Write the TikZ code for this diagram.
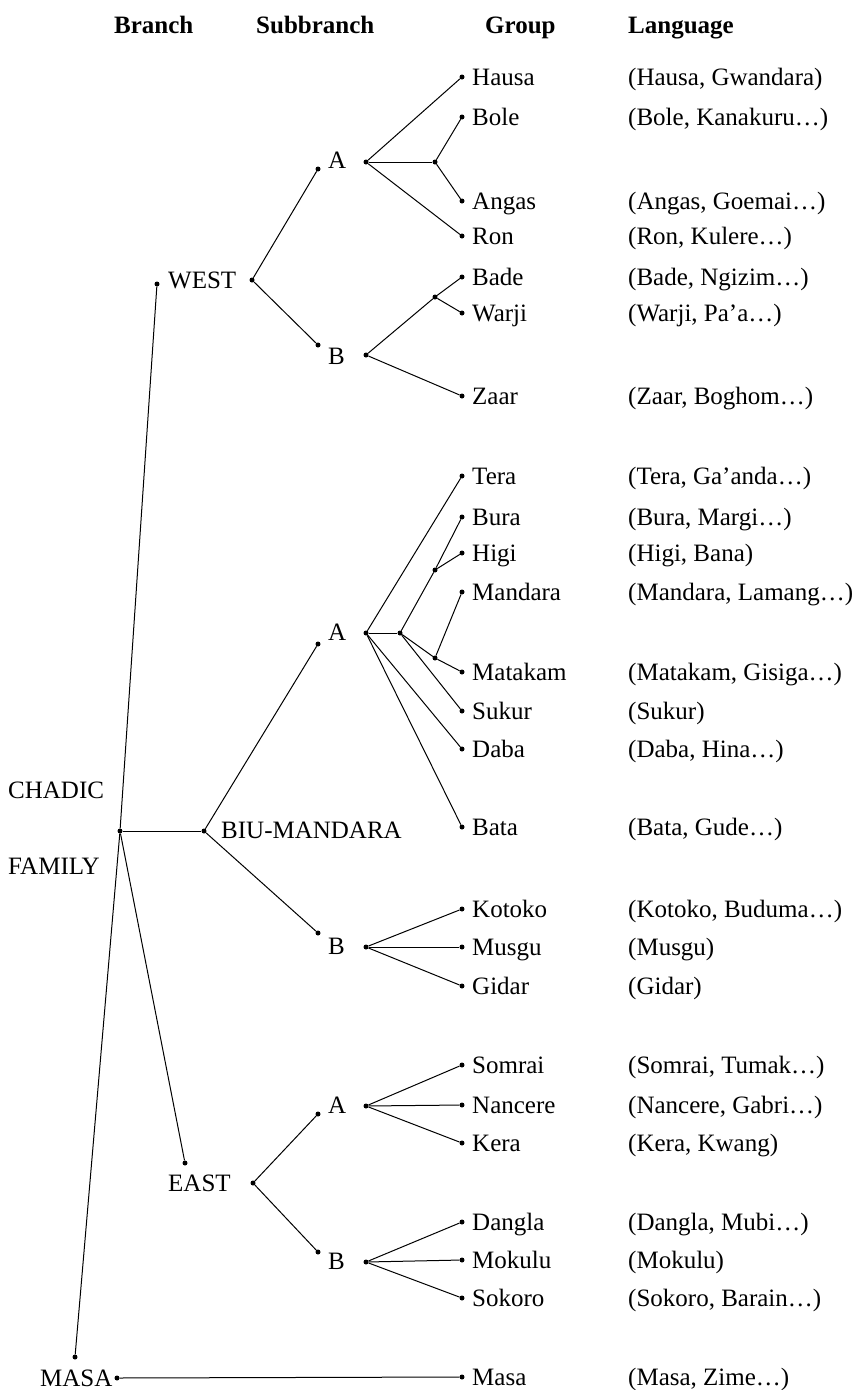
\documentclass[tikz,border=0pt]{standalone}
\usepackage{fontspec}
\setmainfont{Liberation Serif}
\begin{document}
\begin{tikzpicture}[x=1pt,y=-1pt,
  dot/.style={circle,fill=black,inner sep=0pt,minimum size=5pt},
  lbl/.style={inner sep=0pt,anchor=base west,font=\fontsize{25}{30}\selectfont},
  head/.style={inner sep=0pt,anchor=base west,font=\fontsize{25}{30}\selectfont\bfseries},
  edge/.style={draw=black,line width=1pt}]
\useasboundingbox[fill=white] (0,0) rectangle (867,1390);

% column headings
\node[head] (hBranch) at (114,33) {Branch};
\node[head] (hSub) at (256,33) {Subbranch};
\node[head] (hGroup) at (485,33) {Group};
\node[head] (hLang) at (628,33) {Language};

% a leaf: dot, group name, languages
\newcommand\leaf[4]{%
  \node[dot] (#1) at (462,#2) {};
  \node[lbl] (#1-g) at (472,#2+8) {#3};
  \node[lbl] (#1-l) at (628,#2+8) {#4};}

\leaf{hausa}{77}{Hausa}{(Hausa, Gwandara)}
\leaf{bole}{117}{Bole}{(Bole, Kanakuru…)}
\leaf{angas}{201}{Angas}{(Angas, Goemai…)}
\leaf{ron}{236}{Ron}{(Ron, Kulere…)}
\leaf{bade}{277}{Bade}{(Bade, Ngizim…)}
\leaf{warji}{313}{Warji}{(Warji, Pa’a…)}
\leaf{zaar}{396}{Zaar}{(Zaar, Boghom…)}
\leaf{tera}{476}{Tera}{(Tera, Ga’anda…)}
\leaf{bura}{517}{Bura}{(Bura, Margi…)}
\leaf{higi}{553}{Higi}{(Higi, Bana)}
\leaf{mandara}{592}{Mandara}{(Mandara, Lamang…)}
\leaf{matakam}{672}{Matakam}{(Matakam, Gisiga…)}
\leaf{sukur}{711}{Sukur}{(Sukur)}
\leaf{daba}{749}{Daba}{(Daba, Hina…)}
\leaf{bata}{827}{Bata}{(Bata, Gude…)}
\leaf{kotoko}{909}{Kotoko}{(Kotoko, Buduma…)}
\leaf{musgu}{947}{Musgu}{(Musgu)}
\leaf{gidar}{986}{Gidar}{(Gidar)}
\leaf{somrai}{1065}{Somrai}{(Somrai, Tumak…)}
\leaf{nancere}{1105}{Nancere}{(Nancere, Gabri…)}
\leaf{kera}{1143}{Kera}{(Kera, Kwang)}
\leaf{dangla}{1222}{Dangla}{(Dangla, Mubi…)}
\leaf{mokulu}{1260}{Mokulu}{(Mokulu)}
\leaf{sokoro}{1298}{Sokoro}{(Sokoro, Barain…)}
\leaf{masa}{1377}{Masa}{(Masa, Zime…)}

% root
\node[dot] (ch) at (120,831) {};
\node[lbl] (tChadic) at (8,798) {CHADIC};
\node[lbl] (tFamily) at (8,874) {FAMILY};

% WEST branch
\node[dot] (westL) at (157,284) {};
\node[lbl] (tWest) at (168,288) {WEST};
\node[dot] (westR) at (252,280) {};
\node[dot] (waL) at (318,169) {};
\node[lbl] (tWA) at (328,168) {A};
\node[dot] (waR) at (366,162) {};
\node[dot] (waJ) at (435,162) {};
\node[dot] (wbL) at (318,345) {};
\node[lbl] (tWB) at (328,364) {B};
\node[dot] (wbR) at (366,355) {};
\node[dot] (wbJ) at (435,297) {};

% BIU-MANDARA branch
\node[dot] (biuL) at (204,831) {};
\node[lbl] (tBiu) at (221,838) {BIU-MANDARA};
\node[dot] (baL) at (318,644) {};
\node[lbl] (tBA) at (328,640) {A};
\node[dot] (baR) at (366,633) {};
\node[dot] (baJ1) at (400,633) {};
\node[dot] (baJ2) at (435,570) {};
\node[dot] (baJ3) at (435,658) {};
\node[dot] (bbL) at (318,933) {};
\node[lbl] (tBB) at (328,954) {B};
\node[dot] (bbR) at (366,947) {};

% EAST branch
\node[dot] (eastL) at (185,1163) {};
\node[lbl] (tEast) at (168,1191) {EAST};
\node[dot] (eastR) at (253,1183) {};
\node[dot] (eaL) at (318,1114) {};
\node[lbl] (tEA) at (328,1113) {A};
\node[dot] (eaR) at (366,1106) {};
\node[dot] (ebL) at (318,1252) {};
\node[lbl] (tEB) at (328,1269) {B};
\node[dot] (ebR) at (366,1262) {};

% MASA branch
\node[dot] (masaT) at (75,1357) {};
\node[lbl] (tMasa) at (40,1386) {MASA};
\node[dot] (masaR) at (117,1378) {};

% connectors
\draw[edge] (ch) -- (westL);
\draw[edge] (ch) -- (biuL);
\draw[edge] (ch) -- (eastL);
\draw[edge] (ch) -- (masaT);

\draw[edge] (westR) -- (waL);
\draw[edge] (westR) -- (wbL);
\draw[edge] (waR) -- (hausa);
\draw[edge] (waR) -- (waJ);
\draw[edge] (waJ) -- (bole);
\draw[edge] (waJ) -- (angas);
\draw[edge] (waR) -- (ron);
\draw[edge] (wbR) -- (wbJ);
\draw[edge] (wbJ) -- (bade);
\draw[edge] (wbJ) -- (warji);
\draw[edge] (wbR) -- (zaar);

\draw[edge] (biuL) -- (baL);
\draw[edge] (biuL) -- (bbL);
\draw[edge] (baR) -- (tera);
\draw[edge] (baR) -- (baJ1);
\draw[edge] (baJ1) -- (baJ2);
\draw[edge] (baJ2) -- (bura);
\draw[edge] (baJ2) -- (higi);
\draw[edge] (baJ1) -- (baJ3);
\draw[edge] (baJ3) -- (mandara);
\draw[edge] (baJ3) -- (matakam);
\draw[edge] (baJ1) -- (sukur);
\draw[edge] (baR) -- (daba);
\draw[edge] (baR) -- (bata);
\draw[edge] (bbR) -- (kotoko);
\draw[edge] (bbR) -- (musgu);
\draw[edge] (bbR) -- (gidar);

\draw[edge] (eastR) -- (eaL);
\draw[edge] (eastR) -- (ebL);
\draw[edge] (eaR) -- (somrai);
\draw[edge] (eaR) -- (nancere);
\draw[edge] (eaR) -- (kera);
\draw[edge] (ebR) -- (dangla);
\draw[edge] (ebR) -- (mokulu);
\draw[edge] (ebR) -- (sokoro);

\draw[edge] (masaR) -- (masa);
\end{tikzpicture}
\end{document}
